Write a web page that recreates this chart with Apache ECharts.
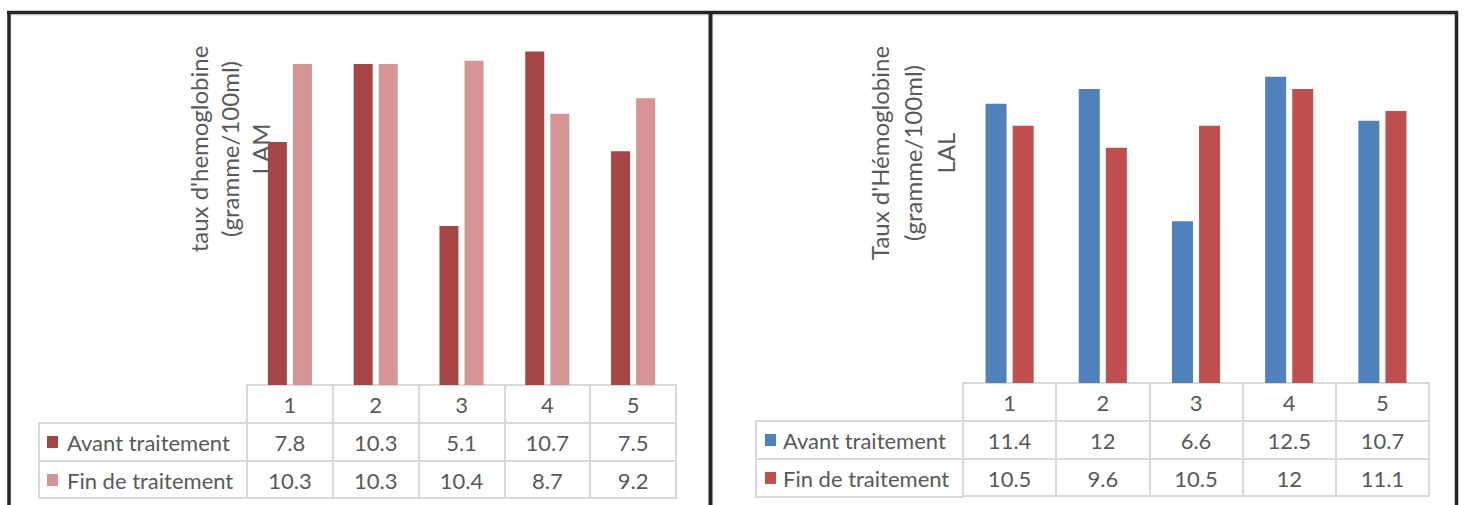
<!DOCTYPE html>
<html>
<head>
<meta charset="utf-8">
<script src="https://cdn.jsdelivr.net/npm/echarts@6/dist/echarts.min.js"></script>
<style>
  html, body { margin: 0; padding: 0; background: #ffffff; }
  #chart { width: 1464px; height: 505px; }
</style>
</head>
<body>
<div id="chart"></div>
<script>
// Patient numbers (shared by both panels)
const categories = ['1', '2', '3', '4', '5'];
const seriesNames = ['Avant traitement', 'Fin de traitement'];

// Hemoglobin level (g/100ml) — LAM patients
const lamAvant = [7.8, 10.3, 5.1, 10.7, 7.5];
const lamFin = [10.3, 10.3, 10.4, 8.7, 9.2];

// Hemoglobin level (g/100ml) — LAL patients
const lalAvant = [11.4, 12, 6.6, 12.5, 10.7];
const lalFin = [10.5, 9.6, 10.5, 12, 11.1];

const lamColors = ['#A64644', '#D59594'];
const lalColors = ['#4F81BD', '#C0504D'];

const FONT = 'Lato, "Noto Sans", sans-serif';
const TEXT = '#595959';
const RULE = '#D9D9D9';
const FRAME = '#262626';

// One data-table axis: its line is a row border, its ticks are the cell borders
function tableAxis(gridIndex, offset, labels, tickLen, showLabel) {
  return {
    type: 'category',
    gridIndex: gridIndex,
    position: 'bottom',
    offset: offset,
    data: labels,
    boundaryGap: true,
    axisLine: { show: true, lineStyle: { color: RULE, width: 2 } },
    axisTick: { show: tickLen > 0, length: tickLen, lineStyle: { color: RULE, width: 2 } },
    axisLabel: {
      show: showLabel, margin: 8, fontSize: 22, lineHeight: 22,
      fontFamily: FONT, color: TEXT, interval: 0
    },
    splitLine: { show: false }
  };
}

function panelAxes(gridIndex, avant, fin) {
  return [
    tableAxis(gridIndex, 0, categories, 38, true),
    tableAxis(gridIndex, 38, avant.map(String), 38, true),
    tableAxis(gridIndex, 76, fin.map(String), 37, true),
    tableAxis(gridIndex, 113, categories, 0, false)
  ];
}

function panelLegend(left, top, colors, textPad) {
  return {
    orient: 'vertical',
    left: left,
    top: top,
    padding: 0,
    itemWidth: 11,
    itemHeight: 12,
    itemGap: 14,
    icon: 'rect',
    selectedMode: false,
    textStyle: {
      fontSize: 22, lineHeight: 24, fontFamily: FONT, color: TEXT,
      padding: [0, 0, 0, textPad]
    },
    data: seriesNames.map((n, i) => ({ name: n, itemStyle: { color: colors[i] } }))
  };
}

function legendCells(x1, x2, y1, ym, y2) {
  return [
    { type: 'rect', shape: { x: x1, y: y1, width: x2 - x1, height: y2 - y1 },
      style: { fill: 'none', stroke: RULE, lineWidth: 2 }, silent: true },
    { type: 'line', shape: { x1: x1, y1: ym, x2: x2, y2: ym },
      style: { stroke: RULE, lineWidth: 2 }, silent: true }
  ];
}

function axisTitle(cx, cy, lines, lineHeight) {
  return {
    type: 'text', x: cx, y: cy, rotation: Math.PI / 2, silent: true,
    style: {
      text: lines.join('\n'), x: 0, y: 0,
      textAlign: 'center', textVerticalAlign: 'middle',
      font: '24px ' + FONT, lineHeight: lineHeight, fill: TEXT
    }
  };
}

function frameLine(x1, y1, x2, y2, w, c) {
  return { type: 'line', silent: true, shape: { x1, y1, x2, y2 }, style: { stroke: c, lineWidth: w } };
}

const chart = echarts.init(document.getElementById('chart'), null, { renderer: 'svg' });

chart.setOption({
  animation: false,
  backgroundColor: '#ffffff',
  grid: [
    { left: 247, top: 11, width: 429, height: 374, containLabel: false },
    { left: 963, top: 40, width: 466, height: 343, containLabel: false }
  ],
  xAxis: [].concat(panelAxes(0, lamAvant, lamFin), panelAxes(1, lalAvant, lalFin)),
  yAxis: [
    { type: 'value', gridIndex: 0, min: 0, max: 12, show: false, splitLine: { show: false } },
    { type: 'value', gridIndex: 1, min: 0, max: 14, show: false, splitLine: { show: false } }
  ],
  legend: [
    panelLegend(47, 430, lamColors, 4),
    panelLegend(765, 428, lalColors, 2)
  ],
  series: [
    { name: seriesNames[0], type: 'bar', xAxisIndex: 0, yAxisIndex: 0, data: lamAvant,
      barWidth: 19, barGap: '32%', itemStyle: { color: lamColors[0] } },
    { name: seriesNames[1], type: 'bar', xAxisIndex: 0, yAxisIndex: 0, data: lamFin,
      barWidth: 19, barGap: '32%', itemStyle: { color: lamColors[1] } },
    { name: seriesNames[0], type: 'bar', xAxisIndex: 4, yAxisIndex: 1, data: lalAvant,
      barWidth: 21, barGap: '29%', itemStyle: { color: lalColors[0] } },
    { name: seriesNames[1], type: 'bar', xAxisIndex: 4, yAxisIndex: 1, data: lalFin,
      barWidth: 21, barGap: '29%', itemStyle: { color: lalColors[1] } }
  ],
  graphic: [].concat(
    legendCells(39, 247, 423, 461, 498),
    legendCells(756, 963, 421, 459, 497),
    [
      axisTitle(229, 149, ["taux d'hemoglobine", '(gramme/100ml)', 'LAM'], 31),
      axisTitle(912, 153, ["Taux d'Hémoglobine", '(gramme/100ml)', 'LAL'], 33),
      // panel frames
      frameLine(7, 15, 1458, 15, 1, '#DDDDDD'),
      frameLine(7, 12.5, 1458, 12.5, 3.5, FRAME),
      frameLine(9, 11, 9, 505, 3.5, FRAME),
      frameLine(710.5, 11, 710.5, 505, 4, FRAME),
      frameLine(1456.5, 11, 1456.5, 505, 3.5, FRAME)
    ]
  )
});
</script>
</body>
</html>
